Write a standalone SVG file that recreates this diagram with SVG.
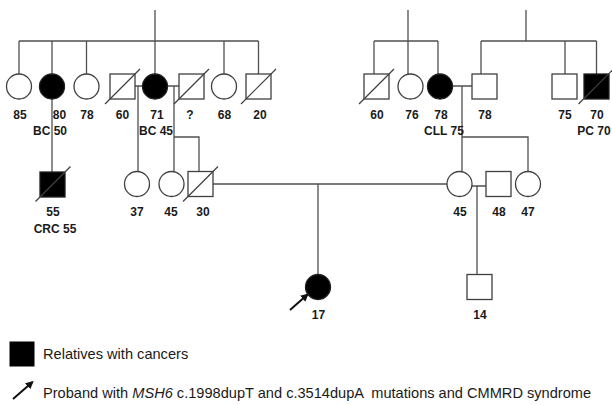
<svg xmlns="http://www.w3.org/2000/svg" width="612" height="405" viewBox="0 0 612 405">
<defs>
<style>
.ln{fill:none;stroke:#505050;stroke-width:1.3}
.sh{fill:#fff;stroke:#404040;stroke-width:1.3}
.af{fill:#000;stroke:#202020;stroke-width:1.3}
.dc{stroke:#404040;stroke-width:1.2}
.lb{font-family:"Liberation Sans",Arial,sans-serif;font-size:12px;font-weight:bold;fill:#1a1a1a;text-anchor:middle}
.lg{font-family:"Liberation Sans",Arial,sans-serif;font-size:14.6px;fill:#1a1a1a}
.ar{stroke:#111;stroke-width:2;marker-end:url(#ah)}
</style>
<marker id="ah" viewBox="0 0 10 10" refX="8" refY="5" markerWidth="4" markerHeight="4" orient="auto" markerUnits="strokeWidth">
<path d="M0,0 L10,5 L0,10 z" fill="#111"/>
</marker>
</defs>
<rect width="612" height="405" fill="#fff"/>
<g id="connectors">
<path class="ln" d="M155,10 V74 M19,41 H258.5 M19,41 V74 M52,41 V74 M86.5,41 V74 M224,41 V74 M258.5,41 V74"/>
<path class="ln" d="M135,86 H142.5 M138,86 V171.5"/>
<path class="ln" d="M167.5,86 H179 M174,86 V171.8 M174,137 H199 V171.5"/>
<path class="ln" d="M52,99 V172"/>
<path class="ln" d="M408,10 V74 M374,41 H438 M374,41 V74 M438,41 V74"/>
<path class="ln" d="M526,10 V41 M481,41 H596.5 M481,41 V74 M565,41 V74 M596.5,41 V74"/>
<path class="ln" d="M452.5,86 H472 M462,86 V172 M462,137 H528 V171.5"/>
<path class="ln" d="M213,184 H447 M318,184 V274.5"/>
<path class="ln" d="M472,186 H486 M477,186 V274.5"/>
</g>
<g id="n85"><circle class="sh" cx="19" cy="86.5" r="12.5"/><text class="lb" x="20" y="119">85</text></g>
<g id="n80"><circle class="af" cx="52" cy="86.5" r="12.5"/><text class="lb" x="59.5" y="119">80</text><text class="lb" x="50" y="135">BC 50</text></g>
<g id="n78a"><circle class="sh" cx="86.5" cy="86.5" r="12.5"/><text class="lb" x="87" y="119">78</text></g>
<g id="n60a"><rect class="sh" x="110" y="74" width="25" height="25"/><line class="dc" x1="105" y1="104" x2="140" y2="69"/><text class="lb" x="122.5" y="119">60</text></g>
<g id="n71"><circle class="af" cx="155" cy="86.5" r="12.5"/><text class="lb" x="157" y="119">71</text><text class="lb" x="156" y="135">BC 45</text></g>
<g id="nq"><rect class="sh" x="179" y="74" width="25" height="25"/><line class="dc" x1="174" y1="104" x2="209" y2="69"/><text class="lb" x="190" y="119">?</text></g>
<g id="n68"><circle class="sh" cx="224" cy="86.5" r="12.5"/><text class="lb" x="224.5" y="119">68</text></g>
<g id="n20"><rect class="sh" x="246" y="74" width="25" height="25"/><line class="dc" x1="241" y1="104" x2="276" y2="69"/><text class="lb" x="260" y="119">20</text></g>
<g id="n60b"><rect class="sh" x="364" y="74" width="25" height="25"/><line class="dc" x1="359" y1="104" x2="394" y2="69"/><text class="lb" x="377" y="119">60</text></g>
<g id="n76"><circle class="sh" cx="410.5" cy="86.5" r="12.5"/><text class="lb" x="412" y="119">76</text></g>
<g id="n78b"><circle class="af" cx="440" cy="86.5" r="12.5"/><text class="lb" x="441" y="119">78</text><text class="lb" x="444" y="135">CLL 75</text></g>
<g id="n78c"><rect class="sh" x="472" y="74" width="25" height="25"/><text class="lb" x="485" y="119">78</text></g>
<g id="n75"><rect class="sh" x="552" y="74" width="25" height="25"/><text class="lb" x="565" y="119">75</text></g>
<g id="n70"><rect class="af" x="584" y="74" width="25" height="25"/><line class="dc" x1="578.5" y1="104" x2="614" y2="68.5"/><text class="lb" x="597" y="119">70</text><text class="lb" x="594" y="135">PC 70</text></g>
<g id="n55"><rect class="af" x="40" y="172" width="25" height="25"/><line class="dc" x1="35.5" y1="201.5" x2="70.5" y2="166.5"/><text class="lb" x="53" y="216">55</text><text class="lb" x="55" y="233">CRC 55</text></g>
<g id="n37"><circle class="sh" cx="137" cy="184" r="12.5"/><text class="lb" x="137" y="216">37</text></g>
<g id="n45a"><circle class="sh" cx="171.5" cy="184" r="12.5"/><text class="lb" x="171" y="216">45</text></g>
<g id="n30"><rect class="sh" x="188" y="171.5" width="25" height="25"/><line class="dc" x1="183" y1="201.5" x2="218" y2="166.5"/><text class="lb" x="203" y="216">30</text></g>
<g id="n45b"><circle class="sh" cx="459.5" cy="184" r="12.5"/><text class="lb" x="460" y="216">45</text></g>
<g id="n48"><rect class="sh" x="486" y="171.5" width="25" height="25"/><text class="lb" x="499" y="216">48</text></g>
<g id="n47"><circle class="sh" cx="528" cy="184" r="12.5"/><text class="lb" x="528" y="216">47</text></g>
<g id="n17"><circle class="af" cx="318" cy="287" r="12.5"/><line class="ar" x1="290" y1="310" x2="307.5" y2="294.5"/><text class="lb" x="318.5" y="319">17</text></g>
<g id="n14"><rect class="sh" x="467" y="274.5" width="25" height="25"/><text class="lb" x="480" y="319">14</text></g>
<g id="legend">
<rect x="9.5" y="341.5" width="25" height="25" fill="#000"/>
<text class="lg" x="43" y="359">Relatives with cancers</text>
<line class="ar" x1="13" y1="399" x2="32.5" y2="382"/>
<text class="lg" x="43" y="398">Proband with <tspan font-style="italic">MSH6</tspan> c.1998dupT and c.3514dupA <tspan dx="4">mutations and CMMRD syndrome</tspan></text>
</g>
</svg>
